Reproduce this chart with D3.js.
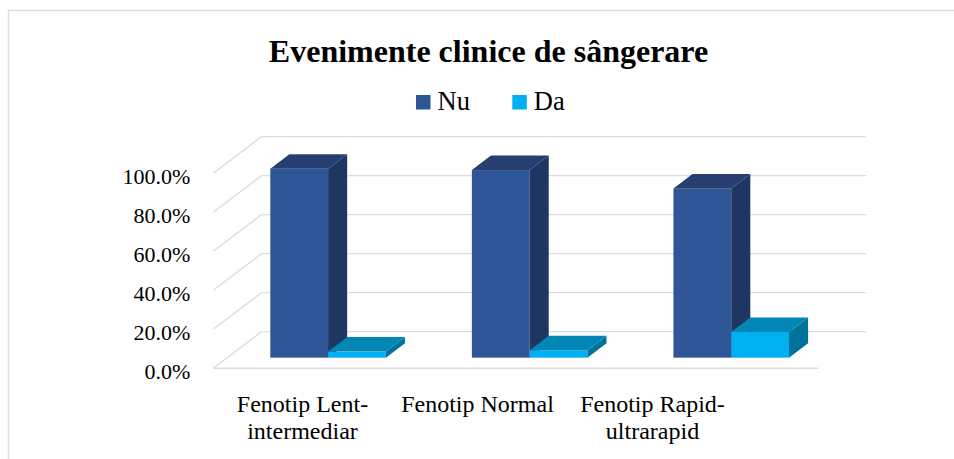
<!DOCTYPE html>
<html>
<head>
<meta charset="utf-8">
<script src="https://cdn.jsdelivr.net/npm/d3@7"></script>
<style>
  html, body { margin: 0; padding: 0; background: #ffffff; }
  svg { display: block; }
  text { font-family: "Liberation Serif", "Times New Roman", serif; fill: #000; }
</style>
</head>
<body>
<script>
// ---- data ----
const categories = ["Fenotip Lent-intermediar", "Fenotip Normal", "Fenotip Rapid-ultrarapid"];
const categoryLabelLines = [["Fenotip Lent-", "intermediar"], ["Fenotip Normal"], ["Fenotip Rapid-", "ultrarapid"]];
const seriesNames = ["Nu", "Da"];
const nuValues = [0.969, 0.962, 0.868];
const daValues = [0.031, 0.038, 0.132];
const yTicks = [0, 0.2, 0.4, 0.6, 0.8, 1.0];
const titleText = "Evenimente clinice de sângerare";

// ---- styles ----
const colors = {
  Nu: { front: "#2E5596", top: "#263F70", side: "#1F3662" },
  Da: { front: "#00B0F0", top: "#0087B6", side: "#00729C" }
};
const gridColor = "#d9dce3";

const W = 954, H = 459;
const svg = d3.select("body").append("svg").attr("width", W).attr("height", H);

// chart border
svg.append("rect").attr("x", 8.5).attr("y", 10.5).attr("width", 980).attr("height", 480)
  .attr("fill", "#fff").attr("stroke", "#d9dde5").attr("stroke-width", 1.5);

// title
svg.append("text").attr("x", 488.5).attr("y", 62).attr("text-anchor", "middle")
  .style("font-size", "32px").style("font-weight", "bold").text(titleText);

// scales
const x = d3.scaleBand().domain(categories).range([213.3, 818]).paddingInner(0).paddingOuter(0);
const inner = d3.scaleBand().domain(seriesNames).range([0, x.bandwidth()]).paddingInner(0).paddingOuter(0.744);
const y = d3.scaleLinear().domain([0, 1]).range([368.3, 173.3]);
const depth = { dx: 48.3, dy: -36.7 };
const f0 = 0.29, f1 = 0.685;

// gridlines (back wall + side wall diagonals)
const g = svg.append("g");
yTicks.forEach(t => {
  g.append("line")
    .attr("x1", x.range()[0] + depth.dx).attr("y1", y(t) + depth.dy)
    .attr("x2", x.range()[1] + depth.dx).attr("y2", y(t) + depth.dy)
    .attr("stroke", gridColor).attr("stroke-width", 1.4);
  g.append("line")
    .attr("x1", x.range()[0]).attr("y1", y(t))
    .attr("x2", x.range()[0] + depth.dx).attr("y2", y(t) + depth.dy)
    .attr("stroke", gridColor).attr("stroke-width", 1.4);
});
// floor front edge
g.append("line")
  .attr("x1", x.range()[0]).attr("y1", y(0))
  .attr("x2", x.range()[1]).attr("y2", y(0))
  .attr("stroke", gridColor).attr("stroke-width", 1.4);

// y axis labels
const yAxis = d3.axisLeft(y).tickValues(yTicks).tickFormat(d3.format(".1%")).tickSize(0).tickPadding(23);
const ya = svg.append("g").attr("transform", `translate(${x.range()[0]},0)`).call(yAxis);
ya.select(".domain").remove();
ya.selectAll("text").attr("dy", "0.45em")
  .style("font-size", "22px").style("font-family", '"Liberation Serif", "Times New Roman", serif').attr("fill", "#000");

// bars
const valuesBySeries = { Nu: nuValues, Da: daValues };
const bars = [];
categories.forEach((c, i) => {
  seriesNames.forEach(s => bars.push({ c, s, v: valuesBySeries[s][i] }));
});
const ddx = (f1 - f0) * depth.dx, ddy = (f1 - f0) * depth.dy;
const barG = svg.append("g");
bars.forEach(b => {
  const x0 = x(b.c) + inner(b.s) + f0 * depth.dx;
  const x1 = x0 + inner.bandwidth();
  const yb = y(0) + f0 * depth.dy;
  const yt = y(b.v) + f0 * depth.dy;
  const col = colors[b.s];
  barG.append("rect").attr("x", x0).attr("y", yt).attr("width", x1 - x0).attr("height", yb - yt)
    .attr("fill", col.front);
  barG.append("polygon")
    .attr("points", [[x1, yt], [x1 + ddx, yt + ddy], [x1 + ddx, yb + ddy], [x1, yb]].map(p => p.join(",")).join(" "))
    .attr("fill", col.side);
  barG.append("polygon")
    .attr("points", [[x0, yt], [x1, yt], [x1 + ddx, yt + ddy], [x0 + ddx, yt + ddy]].map(p => p.join(",")).join(" "))
    .attr("fill", col.top);
});

// category labels
const labelX = d3.scaleBand().domain(categories).range([215, 740]);
categories.forEach((c, i) => {
  const t = svg.append("text").attr("text-anchor", "middle").style("font-size", "24px");
  categoryLabelLines[i].forEach((line, j) => {
    t.append("tspan").attr("x", labelX(c) + labelX.bandwidth() / 2).attr("y", 411.7 + j * 27.6).text(line);
  });
});

// legend
const legendX = d3.scaleOrdinal().domain(seriesNames).range([416, 512.3]);
seriesNames.forEach(s => {
  svg.append("rect").attr("x", legendX(s)).attr("y", 95).attr("width", 14.5).attr("height", 14.5)
    .attr("fill", colors[s].front);
  svg.append("text").attr("x", legendX(s) + 21.5).attr("y", 110).style("font-size", "26.5px").text(s);
});
</script>
</body>
</html>
